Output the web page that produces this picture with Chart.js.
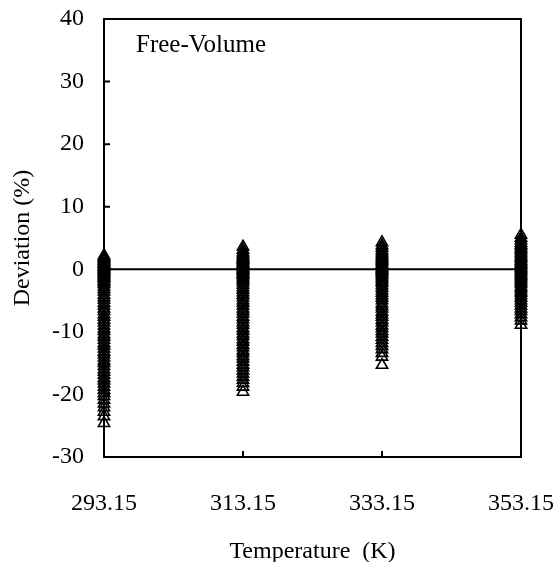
<!DOCTYPE html>
<html>
<head>
<meta charset="utf-8">
<script src="https://cdn.jsdelivr.net/npm/chart.js@4/dist/chart.umd.min.js"></script>
<style>
  html, body { margin: 0; padding: 0; background: #fff; }
  #grafica { display: block; }
</style>
</head>
<body>
<canvas id="grafica" width="557" height="562"></canvas>
<script>
// Temperaturas (K) y desviaciones (%) del modelo de volumen libre
const temperaturas = [293.15, 313.15, 333.15, 353.15];
const yTicks = [-30, -20, -10, 0, 10, 20, 30, 40];

const desv29315 = [2.2, 2.0, 1.8, 1.6, 1.4, 1.3, 1.1, 0.9, 0.8, 0.6, 0.4, 0.3, 0.1, -0.1, -0.2, -0.4,
  -0.6, -0.8, -1.0, -1.2, -1.4, -1.6, -1.9, -2.1, -2.4, -2.8, -3.2, -3.6, -4.1, -4.5, -4.9, -5.4,
  -5.8, -6.3, -6.7, -7.2, -7.6, -8.1, -8.5, -9.0, -9.5, -9.9, -10.4, -10.8, -11.3, -11.8, -12.2,
  -12.7, -13.2, -13.6, -14.1, -14.6, -15.0, -15.5, -16.0, -16.4, -16.9, -17.4, -17.8, -18.3, -18.8,
  -19.3, -19.8, -20.3, -20.9, -21.5, -22.1, -22.8, -23.5, -24.6];
const desv31315 = [3.6, 3.1, 2.7, 2.4, 2.1, 1.9, 1.7, 1.5, 1.3, 1.1, 0.9, 0.7, 0.5, 0.3, 0.1, -0.1,
  -0.3, -0.5, -0.7, -0.9, -1.2, -1.5, -1.8, -2.1, -2.5, -2.9, -3.3, -3.7, -4.1, -4.5, -5.0, -5.4,
  -5.8, -6.3, -6.7, -7.1, -7.6, -8.0, -8.5, -8.9, -9.4, -9.8, -10.3, -10.7, -11.2, -11.6, -12.1,
  -12.5, -13.0, -13.4, -13.9, -14.3, -14.8, -15.3, -15.7, -16.2, -16.7, -17.2, -17.7, -18.2, -18.8, -19.6];
const desv33315 = [4.3, 3.8, 3.4, 3.0, 2.7, 2.4, 2.1, 1.9, 1.6, 1.4, 1.2, 0.9, 0.7, 0.5, 0.3, 0.1,
  -0.1, -0.3, -0.5, -0.8, -1.0, -1.3, -1.6, -1.9, -2.2, -2.6, -3.0, -3.4, -3.8, -4.2, -4.6, -5.0,
  -5.5, -5.9, -6.3, -6.8, -7.2, -7.6, -8.1, -8.5, -9.0, -9.4, -9.9, -10.3, -10.8, -11.3, -11.8,
  -12.3, -12.8, -13.4, -14.0, -15.3];
const desv35315 = [5.5, 5.0, 4.6, 4.2, 3.9, 3.6, 3.3, 3.0, 2.7, 2.4, 2.1, 1.9, 1.6, 1.3, 1.1, 0.8,
  0.6, 0.3, 0.1, -0.2, -0.4, -0.7, -1.0, -1.2, -1.5, -1.8, -2.1, -2.4, -2.8, -3.1, -3.5, -3.8,
  -4.2, -4.6, -5.0, -5.4, -5.8, -6.3, -6.7, -7.2, -7.7, -8.2, -8.9];

const desviaciones = [desv29315, desv31315, desv33315, desv35315];

const fuente = 'Liberation Serif, Times New Roman, serif';

// Puntos (x = temperatura, y = desviación)
const puntos = [];
desviaciones.forEach((serie, i) => {
  serie.forEach(v => puntos.push({ x: temperaturas[i], y: v }));
});

// Sin relleno extra por etiquetas: el área la fija layout.padding
function sinRelleno(scale) {
  scale.paddingTop = 0;
  scale.paddingBottom = 0;
  scale.paddingLeft = 0;
  scale.paddingRight = 0;
}

// Marco completo y marcas hacia dentro, más la etiqueta del modelo
const marcoPlugin = {
  id: 'marco',
  afterDatasetsDraw(chart) {
    const { ctx, chartArea: a, scales } = chart;
    ctx.save();
    ctx.strokeStyle = '#000';
    ctx.lineWidth = 2;
    ctx.strokeRect(a.left, a.top, a.right - a.left, a.bottom - a.top);

    ctx.beginPath();
    temperaturas.forEach(t => {
      const px = scales.x.getPixelForValue(t);
      ctx.moveTo(px, a.bottom);
      ctx.lineTo(px, a.bottom - 6);
    });
    yTicks.forEach(v => {
      const py = scales.y.getPixelForValue(v);
      ctx.moveTo(a.left, py);
      ctx.lineTo(a.left + 6, py);
    });
    ctx.stroke();

    ctx.fillStyle = '#000';
    ctx.font = '25px ' + fuente;
    ctx.textAlign = 'left';
    ctx.textBaseline = 'alphabetic';
    ctx.fillText('Free-Volume', a.left + 32, a.top + 33);
    ctx.restore();
  }
};

const ctx = document.getElementById('grafica').getContext('2d');
new Chart(ctx, {
  type: 'scatter',
  data: {
    datasets: [
      {
        type: 'line',
        label: 'cero',
        data: [{ x: temperaturas[0], y: 0 }, { x: temperaturas[temperaturas.length - 1], y: 0 }],
        borderColor: '#000',
        borderWidth: 2,
        pointRadius: 0,
        fill: false
      },
      {
        label: 'Free-Volume',
        data: puntos,
        pointStyle: 'triangle',
        pointRadius: 6.5,
        borderColor: '#000',
        borderWidth: 1.6,
        backgroundColor: 'rgba(255,255,255,0)',
        clip: false
      }
    ]
  },
  options: {
    responsive: false,
    animation: false,
    events: [],
    layout: { padding: { top: 19, right: 36, left: 0, bottom: 0 } },
    plugins: {
      legend: { display: false },
      tooltip: { enabled: false }
    },
    scales: {
      x: {
        type: 'linear',
        min: 293.15,
        max: 353.15,
        afterBuildTicks(scale) {
          scale.ticks = temperaturas.map(v => ({ value: v }));
        },
        afterFit(scale) {
          scale.height = 105;
          sinRelleno(scale);
        },
        grid: { display: false, drawTicks: false },
        border: { display: true, color: '#000', width: 2 },
        ticks: {
          color: '#000',
          padding: 32,
          maxRotation: 0,
          font: { family: fuente, size: 24 },
          callback: v => Number(v).toFixed(2)
        },
        title: {
          display: true,
          text: 'Temperature  (K)',
          color: '#000',
          font: { family: fuente, size: 24 },
          padding: { top: 0, bottom: -4 }
        }
      },
      y: {
        min: -30,
        max: 40,
        afterBuildTicks(scale) {
          scale.ticks = yTicks.map(v => ({ value: v }));
        },
        afterFit(scale) {
          scale.width = 104;
          sinRelleno(scale);
        },
        grid: { display: false, drawTicks: false },
        border: { display: true, color: '#000', width: 2 },
        ticks: {
          color: '#000',
          padding: 20,
          font: { family: fuente, size: 24 }
        },
        title: {
          display: true,
          text: 'Deviation (%)',
          color: '#000',
          font: { family: fuente, size: 24 },
          padding: { top: 8, bottom: 0 }
        }
      }
    }
  },
  plugins: [marcoPlugin]
});
</script>
</body>
</html>
